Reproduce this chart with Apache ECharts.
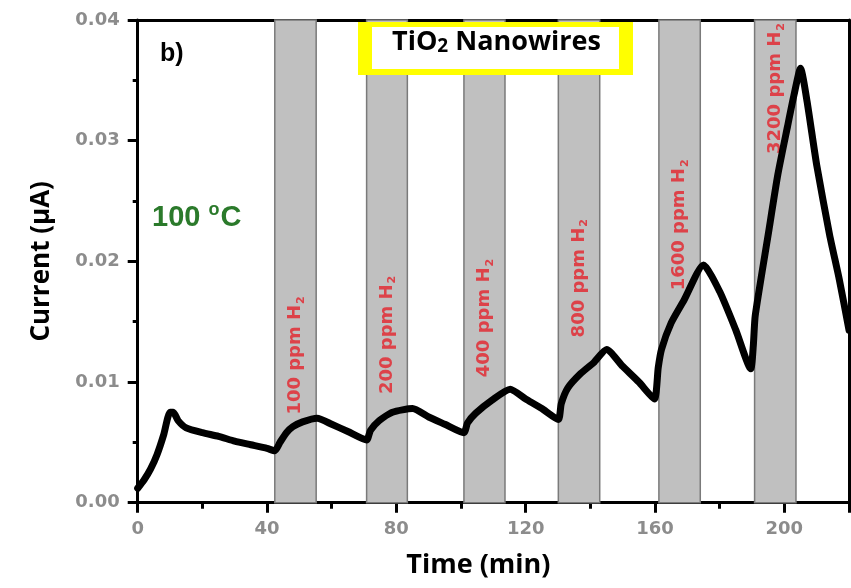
<!DOCTYPE html>
<html>
<head>
<meta charset="utf-8">
<script src="https://cdn.jsdelivr.net/npm/echarts@6/dist/echarts.min.js"></script>
<style>
html,body{margin:0;padding:0;background:#fff;}
#main{width:851px;height:588px;}
</style>
</head>
<body>
<div id="main"></div>
<script>
// time (min) and current (uA)
var time = [0, 2, 4, 6, 8, 10, 11, 12.5, 15, 20, 25, 30, 35, 40, 42.4,
    44, 46, 48, 51, 55.5, 60, 65, 70.8,
    72, 74.7, 78.8, 85, 90, 95, 100.9,
    102, 104.5, 109.6, 115.2, 120, 125, 130.1,
    131, 133, 137, 141, 145, 150, 155, 159.8,
    161, 162, 165, 169, 175, 180, 185, 189.6,
    190.4, 191, 195, 198, 201, 203, 205, 207, 210, 214, 217, 220];
var current = [0.0012, 0.0019, 0.0028, 0.0040, 0.0056, 0.0075, 0.0075, 0.0068, 0.0062, 0.0058, 0.0055, 0.0051, 0.0048, 0.0045, 0.0043,
    0.0050, 0.0058, 0.0063, 0.0067, 0.0070, 0.0065, 0.0059, 0.0052,
    0.0060, 0.0068, 0.0075, 0.0078, 0.0071, 0.0065, 0.0058,
    0.0066, 0.0074, 0.0085, 0.0094, 0.0086, 0.0078, 0.0069,
    0.0082, 0.0095, 0.0107, 0.0116, 0.0127, 0.0113, 0.0100, 0.0086,
    0.0112, 0.0127, 0.0149, 0.0168, 0.0197, 0.0175, 0.0143, 0.0111,
    0.0130, 0.0155, 0.0222, 0.0272, 0.0312, 0.0338, 0.0360, 0.0333, 0.0280, 0.0222, 0.0185, 0.0143];

// H2 exposure windows
var bandStart = [42.4, 70.8, 100.9, 130.1, 161.2, 190.8];
var bandEnd = [55.2, 83.4, 113.6, 142.9, 174.0, 203.6];
var bandLabel = ['100 ppm H', '200 ppm H', '400 ppm H', '800 ppm H', '1600 ppm H', '3200 ppm H'];
var labelX = [48.8, 77.1, 107.2, 136.5, 167.6, 197.2];
var labelY = [0.0073, 0.0090, 0.0104, 0.0137, 0.0176, 0.0289];

var xTicks = [0, 40, 80, 120, 160, 200];
var yTicks = ['0.00', '0.01', '0.02', '0.03', '0.04'];

var myChart = echarts.init(document.getElementById('main'));

var lineData = time.map(function (t, i) { return [t, current[i]]; });
var areas = bandStart.map(function (s, i) { return [{xAxis: s}, {xAxis: bandEnd[i]}]; });
var labelData = labelX.map(function (x, i) { return {value: [x, labelY[i]], name: bandLabel[i]}; });

var tickFont = {color: '#8c8c8c', fontFamily: 'DejaVu Sans', fontWeight: 'bold', fontSize: 18};
var red = '#e4222a';
var black3 = {color: '#000', width: 3};

var option = {
    animation: false,
    grid: {left: 137.7, right: 2, top: 20, bottom: 85.3},
    xAxis: [{
        type: 'value', min: 0, max: 220, interval: 40,
        axisLine: {show: true, onZero: false, lineStyle: black3},
        axisTick: {show: true, length: 10, lineStyle: black3},
        minorTick: {show: true, splitNumber: 2, length: 6, lineStyle: black3},
        splitLine: {show: false},
        axisLabel: Object.assign({margin: 18, showMaxLabel: false, formatter: function (v) {
            return xTicks.indexOf(v) >= 0 ? String(v) : '';
        }}, tickFont),
        name: 'Time (min)', nameLocation: 'middle', nameGap: 49,
        nameTextStyle: {color: '#000', fontFamily: 'Open Sans', fontWeight: 'bold', fontSize: 27, padding: [0, 30, 0, 0]}
    }, {
        type: 'value', position: 'top', min: 0, max: 220,
        axisLine: {show: true, onZero: false, lineStyle: black3},
        axisTick: {show: false}, axisLabel: {show: false}, splitLine: {show: false}
    }],
    yAxis: [{
        type: 'value', min: 0, max: 0.04, interval: 0.01,
        axisLine: {show: true, onZero: false, lineStyle: black3},
        axisTick: {show: true, length: 10, lineStyle: black3},
        minorTick: {show: true, splitNumber: 2, length: 5, lineStyle: black3},
        splitLine: {show: false},
        axisLabel: Object.assign({margin: 18, formatter: function (v) {
            return yTicks[Math.round(v * 100)];
        }}, tickFont),
        name: 'Current (\u03bcA)', nameLocation: 'middle', nameGap: 83,
        nameTextStyle: {color: '#000', fontFamily: 'Open Sans', fontWeight: 'bold', fontSize: 26}
    }, {
        type: 'value', position: 'right', min: 0, max: 0.04,
        axisLine: {show: true, onZero: false, lineStyle: black3},
        axisTick: {show: false}, axisLabel: {show: false}, splitLine: {show: false}
    }],
    series: [{
        type: 'line',
        data: lineData,
        showSymbol: false,
        smooth: 0.2,
        lineStyle: {color: '#000', width: 7, join: 'round', cap: 'round'},
        markArea: {
            silent: true,
            itemStyle: {color: '#c0c0c0', borderColor: '#7a7a7a', borderWidth: 1.5},
            data: areas
        }
    }, {
        type: 'scatter',
        data: labelData,
        symbolSize: 0,
        label: {
            show: true,
            position: 'inside',
            rotate: 90,
            align: 'left',
            verticalAlign: 'middle',
            formatter: function (p) { return '{t|' + p.name + '}{s|2}'; },
            rich: {
                t: {color: red, fontFamily: 'DejaVu Sans', fontWeight: 'bold', fontSize: 18, lineHeight: 22},
                s: {color: red, fontFamily: 'DejaVu Sans', fontWeight: 'bold', fontSize: 11, verticalAlign: 'bottom', padding: [9, 0, 0, 1]}
            }
        }
    }],
    graphic: [{
        type: 'rect', left: 358, top: 22, z: 20,
        shape: {width: 275, height: 53},
        style: {fill: '#ffff00'}
    }, {
        type: 'rect', left: 372, top: 27, z: 21,
        shape: {width: 247, height: 42},
        style: {fill: '#fff'}
    }, {
        type: 'text', left: 392, top: 29, z: 22,
        style: {
            text: '{a|TiO}{b|2}{a|\u00a0Nanowires}',
            rich: {
                a: {fill: '#000', fontFamily: 'Open Sans', fontWeight: 'bold', fontSize: 27, lineHeight: 34},
                b: {fill: '#000', fontFamily: 'Open Sans', fontWeight: 'bold', fontSize: 19, verticalAlign: 'bottom', padding: [0, 0, 3, 0]}
            }
        }
    }, {
        type: 'text', left: 160, top: 42, z: 22,
        style: {text: 'b)', fill: '#000', font: 'bold 25px "Liberation Sans"'}
    }, {
        type: 'text', left: 152, top: 201, z: 22,
        style: {
            text: '{a|100 }{o|o}{a|C}',
            rich: {
                a: {fill: '#2b7a2b', fontFamily: 'Liberation Sans', fontWeight: 'bold', fontSize: 29, lineHeight: 34},
                o: {fill: '#2b7a2b', fontFamily: 'Liberation Sans', fontWeight: 'bold', fontSize: 18, verticalAlign: 'top', padding: [0, 1, 10, 0]}
            }
        }
    }]
};
myChart.setOption(option);
</script>
</body>
</html>
